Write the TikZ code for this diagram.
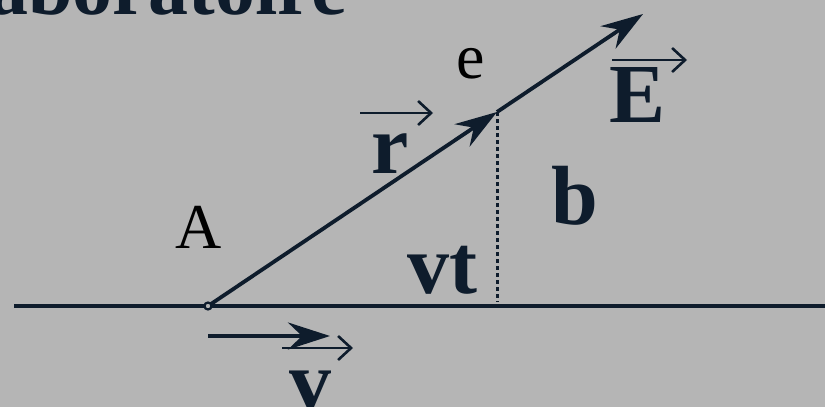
\documentclass[tikz,border=0pt]{standalone}
\usepackage{fontspec}
\setmainfont{Liberation Serif}
\usetikzlibrary{arrows.meta}
\definecolor{bg}{RGB}{181,181,181}
\definecolor{navy}{RGB}{14,28,44}
\tikzset{
  boldlbl/.style={inner sep=0pt, anchor=base west, text=navy, font=\fontsize{84}{84}\selectfont\bfseries},
  plainlbl/.style={inner sep=0pt, anchor=base west, text=black, font=\fontsize{64}{64}\selectfont},
  vecline/.style={draw=navy, line width=3.8pt, -{Stealth[length=42pt,width=27pt,inset=14pt]}},
  overarrow/.style={draw=navy, line width=2.6pt, -{Straight Barb[length=13pt,width=24pt,line width=2.6pt]}},
}
\begin{document}
\begin{tikzpicture}[x=1pt,y=-1pt]
\useasboundingbox (0,0) rectangle (825,407);
\clip (0,0) rectangle (825,407);
\fill[bg] (0,0) rectangle (825,407);
% title (clipped at the top edge, as in the reference)
\node[inner sep=0pt, anchor=base east, text=navy, font=\fontsize{80}{80}\selectfont\bfseries] (title) at (347,14) {Laboratoire};
% axis
\coordinate (axL) at (14,306);
\coordinate (axR) at (826,306);
\draw[navy, line width=4.5pt] (axL) -- (axR);
% points
\coordinate (A) at (208,306);
\coordinate (M) at (497,112);
\coordinate (T) at (643,14);
\coordinate (F) at (497,302);
\draw[navy, line width=3pt, dash pattern=on 3.5pt off 3.5pt] (M) -- (F);
\draw[vecline] (A) -- (M);
\draw[vecline] (M) -- (T);
\draw[navy, line width=2.2pt, fill=bg] (A) circle (3.5pt);
% v vector
\coordinate (v0) at (208,336);
\coordinate (v1) at (330,336);
\draw[vecline] (v0) -- (v1);
% labels
\node[plainlbl] (lA) at (175,248) {A};
\node[plainlbl] (le) at (456,78) {e};
\node[boldlbl] (lr) at (371,173) {r};
\node[boldlbl] (lE) at (609,122) {E};
\node[boldlbl] (lb) at (551,224) {b};
\node[boldlbl] (lvt) at (407,293) {vt};
\node[boldlbl] (lv) at (289,409) {v};
% over arrows
\coordinate (ra) at (360,113); \coordinate (rb) at (433,113);
\coordinate (Ea) at (612,60); \coordinate (Eb) at (687,60);
\coordinate (va) at (282,348); \coordinate (vb) at (353,348);
\draw[overarrow] (ra) -- (rb);
\draw[overarrow] (Ea) -- (Eb);
\draw[overarrow] (va) -- (vb);
\end{tikzpicture}
\end{document}
